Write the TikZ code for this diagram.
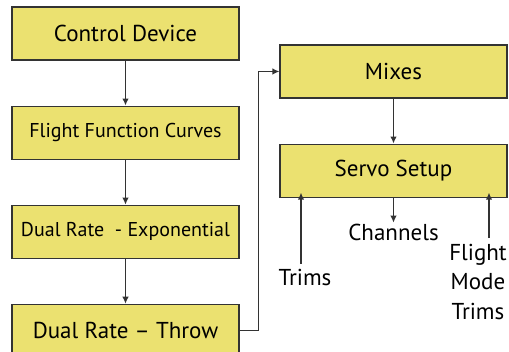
\documentclass[tikz,border=0pt]{standalone}
\usepackage{fontspec}
\setmainfont{PT Sans}
\usetikzlibrary{shapes,arrows,arrows.meta,positioning,calc}

\begin{document}
\begin{tikzpicture}[
        x=1pt, y=1pt,
        node distance=45pt,
        stage/.style={rectangle, draw=black!80, line width=1.1pt, fill={rgb,255:red,235;green,225;blue,112}, minimum width=227pt, minimum height=53pt, inner sep=0pt, font=\fontsize{23}{27}\selectfont},
        smallstage/.style={stage, font=\fontsize{20}{24}\selectfont},
        lbl/.style={inner sep=1pt, font=\fontsize{23}{29.5}\selectfont, align=center},
        arrow/.style={-{Latex[length=7pt,width=6.5pt]}, line width=1.3pt, draw=black!80}
    ]
    \useasboundingbox (0,0) rectangle (509,352);

    % Left column
    \node[stage] (control) at (125.5,318.5) {Control Device};
    \node[smallstage, below=of control] (curves) {Flight Function Curves};
    \node[smallstage, below=of curves] (expo) {Dual Rate\ \ - Exponential};
    \node[stage, below=of expo] (throw) {Dual Rate -- Throw};

    % Right column
    \node[stage] (mixes) at (393.5,280.5) {Mixes};
    \node[stage, below=of mixes] (servo) {Servo Setup};

    % Inputs and outputs of servo setup
    \node[lbl, below=25pt of servo.south] (channels) {Channels};
    \node[lbl] (trims) at (305,74) {Trims};
    \node[lbl] (fmtrims) at (478,70) {Flight\\Mode\\Trims};

    \draw[arrow] (control) -- (curves);
    \draw[arrow] (curves) -- (expo);
    \draw[arrow] (expo) -- (throw);
    \draw[arrow] (throw.east) -- ++(19,0) |- (mixes.west);
    \draw[arrow] (mixes) -- (servo);
    \draw[arrow] (servo) -- (channels);
    \draw[arrow] ([xshift=-4pt,yshift=5pt]trims.north) -- ([xshift=-4pt,yshift=5pt]trims.north |- servo.south);
    \draw[arrow] ([xshift=11pt,yshift=5pt]fmtrims.north) -- ([xshift=11pt,yshift=5pt]fmtrims.north |- servo.south);

    \end{tikzpicture}
\end{document}
